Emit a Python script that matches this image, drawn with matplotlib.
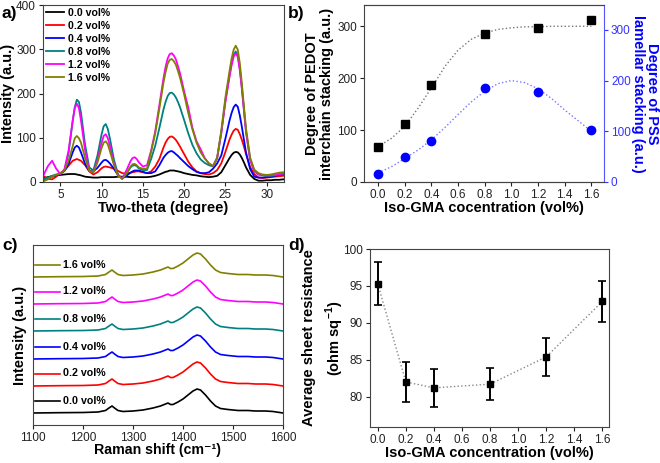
import numpy as np
import matplotlib
matplotlib.use("Agg")
import matplotlib.pyplot as plt

plt.rcParams['font.family'] = ['Liberation Sans', 'DejaVu Sans']
plt.rcParams['mathtext.fontset'] = 'custom'
plt.rcParams['mathtext.rm'] = 'Liberation Sans'
plt.rcParams['mathtext.bf'] = 'Liberation Sans:bold'

# ---- panel a: XRD ----
two_theta = list(np.arange(3.0, 32.01, 0.5))
xrd_labels = ["0.0 vol%", "0.2 vol%", "0.4 vol%", "0.8 vol%", "1.2 vol%", "1.6 vol%"]
xrd_colors = ["#000000", "#ff0000", "#0000ff", "#008080", "#ff00ff", "#808000"]
xrd_00 = [9, 11, 13, 15, 16, 17, 18, 18, 17, 15, 12, 11, 10, 10, 11, 11, 11, 11, 12, 12,
          12, 11, 11, 11, 11, 11, 12, 14, 17, 21, 24, 26, 25, 23, 20, 18, 16, 15, 13, 12,
          11, 12, 14, 22, 38, 54, 66, 67, 54, 33, 16, 7, 3, 3, 4, 4, 5, 5, 6]
xrd_02 = [13, 7, 6, 12, 20, 26, 37, 48, 52, 48, 38, 24, 17, 22, 31, 35, 33, 30, 25, 20,
          19, 21, 23, 24, 22, 20, 24, 35, 52, 78, 97, 103, 95, 80, 63, 46, 33, 24, 20, 18,
          17, 20, 27, 42, 68, 96, 116, 118, 95, 63, 34, 18, 10, 9, 10, 11, 12, 13, 14]
xrd_04 = [5, 8, 12, 15, 19, 25, 41, 67, 82, 67, 41, 25, 24, 32, 44, 50, 42, 30, 15, 8,
          14, 21, 26, 26, 23, 20, 20, 24, 38, 55, 66, 70, 63, 54, 45, 36, 29, 23, 20, 20,
          22, 30, 42, 60, 98, 139, 169, 170, 124, 66, 29, 12, 10, 10, 11, 12, 14, 16, 18]
xrd_08 = [6, 10, 14, 17, 18, 26, 66, 138, 186, 157, 84, 33, 26, 60, 108, 131, 99, 50, 17, 7,
          18, 33, 38, 31, 27, 27, 52, 82, 122, 164, 194, 202, 191, 169, 140, 110, 84, 65, 51, 43,
          38, 35, 54, 112, 184, 241, 287, 287, 212, 114, 50, 25, 17, 15, 14, 14, 15, 17, 19]
xrd_12 = [17, 36, 48, 30, 18, 29, 71, 139, 177, 139, 71, 26, 22, 49, 89, 108, 82, 41, 14, 8,
          26, 47, 56, 45, 35, 38, 71, 115, 174, 235, 279, 291, 277, 246, 205, 168, 123, 92, 74, 54,
          42, 36, 54, 110, 181, 238, 283, 283, 209, 113, 50, 25, 17, 16, 15, 15, 16, 18, 19]
xrd_16 = [2, 6, 12, 16, 20, 26, 48, 81, 104, 89, 54, 25, 22, 44, 77, 92, 70, 38, 14, 7,
          19, 35, 41, 33, 30, 30, 68, 110, 166, 225, 267, 278, 265, 236, 198, 156, 119, 89, 67, 53,
          42, 36, 55, 116, 191, 251, 299, 299, 222, 121, 55, 28, 20, 17, 16, 17, 19, 21, 22]
# extra readings near the peak tops
two_theta_peaks = [6.75, 7.25, 10.25, 10.75, 13.75, 14.25, 17.75, 18.25, 18.75, 19.25,
                   25.75, 26.25, 26.75, 27.25]
peaks_00 = [18, 16, 11, 11, 11, 11, 23, 26, 26, 24, 61, 68, 62, 44]
peaks_02 = [50, 50, 34, 34, 22, 24, 89, 102, 100, 88, 107, 120, 108, 80]
peaks_04 = [78, 78, 49, 47, 24, 26, 61, 69, 67, 59, 156, 175, 150, 95]
peaks_08 = [169, 181, 126, 120, 37, 36, 181, 201, 198, 181, 268, 295, 256, 163]
peaks_12 = [167, 167, 104, 99, 54, 52, 260, 289, 286, 262, 264, 291, 252, 160]
peaks_16 = [99, 99, 89, 85, 40, 38, 248, 276, 273, 251, 279, 308, 268, 170]

# ---- panel b: stacking degree ----
conc = [0.0, 0.2, 0.4, 0.8, 1.2, 1.6]
pedot_stack = [68, 112, 186, 286, 296, 313]
pss_stack = [16, 50, 80, 186, 177, 103]
fit_x = np.arange(0.0, 1.601, 0.1)
pedot_fit = [68, 84, 107, 142, 181, 222, 254, 275, 287, 294, 297, 299, 299, 300, 300, 300, 300]
pss_fit = [18, 30, 46, 63, 83, 107, 133, 158, 179, 194, 200, 196, 184, 165, 142, 121, 100]

# ---- panel c: Raman ----
raman_shift = [1100, 1150, 1200, 1230, 1245, 1252, 1258, 1263, 1270, 1280, 1300, 1320, 1340,
               1355, 1365, 1370, 1375, 1380, 1390, 1400, 1410, 1420, 1428, 1435, 1445, 1455,
               1465, 1475, 1490, 1510, 1530, 1545, 1565, 1580, 1600]
raman_profile = [0, 0.3, 0.5, 1, 2.5, 5, 7, 5, 2.5, 1.5, 2, 3, 5, 7, 9, 10, 8.5, 8.5, 11, 14,
                 18, 22, 24, 23, 18, 12, 7, 4.5, 3.5, 2.5, 2.5, 2, 2, 1.5, 0]
raman_offsets = [12, 39, 66, 94, 121, 148]

# ---- panel d: sheet resistance ----
rs_mean = [95.3, 82.0, 81.2, 81.7, 85.4, 92.9]
rs_err = [2.9, 2.7, 2.55, 2.2, 2.55, 2.75]

fig = plt.figure(figsize=(6.6, 4.63), dpi=100)
frame = '#444444'
lab_fs = 10.5
tick_fs = 8.5


def style(ax):
    for s in ax.spines.values():
        s.set_color(frame)
        s.set_linewidth(0.8)
    ax.tick_params(direction='out', length=3, width=0.8, pad=2, labelsize=tick_fs, colors='#222222')


# a
ax = fig.add_axes([43/660, 1-182/463, 241/660, 177/463])
series = [(xrd_00, peaks_00), (xrd_02, peaks_02), (xrd_04, peaks_04),
          (xrd_08, peaks_08), (xrd_12, peaks_12), (xrd_16, peaks_16)]
xx = np.array(two_theta + two_theta_peaks)
order = np.argsort(xx)
for (y, yp), c, l in zip(series, xrd_colors, xrd_labels):
    yy = np.array(y + yp)
    ax.plot(xx[order], yy[order], color=c, lw=1.3, label=l)
ax.set_xlim(2.9, 32.1)
ax.set_ylim(0, 400)
ax.set_xticks([5, 10, 15, 20, 25, 30])
ax.set_yticks([0, 100, 200, 300, 400])
ax.set_xlabel("Two-theta (degree)", fontsize=lab_fs, fontweight='bold', labelpad=0)
ax.set_ylabel("Intensity (a.u.)", fontsize=lab_fs, fontweight='bold', labelpad=1)
style(ax)
ax.legend(loc='upper left', frameon=False, prop={'weight': 'bold', 'size': 7.6},
          handlelength=1.7, handletextpad=0.4, labelspacing=0.28,
          borderaxespad=0.0, borderpad=0.3)

# b
ax = fig.add_axes([364/660, 1-182/463, 240/660, 177/463])
ax.plot(fit_x, pedot_fit, ls=':', color='#777777', lw=1)
ax.plot(conc, pedot_stack, 's', color='k', ms=5.5)
ax.set_xlim(-0.105, 1.695)
ax.set_ylim(0, 341)
ax.set_xticks(np.arange(0, 1.61, 0.2))
ax.set_yticks([0, 100, 200, 300])
ax.set_xlabel("Iso-GMA cocentration (vol%)", fontsize=lab_fs, fontweight='bold', labelpad=0)
ax.set_ylabel("Degree of PEDOT\ninterchain stacking (a.u.)", fontsize=lab_fs,
              fontweight='bold', labelpad=2, linespacing=1.1)
style(ax)
ax.spines['right'].set_visible(False)
ax2 = ax.twinx()
ax2.plot(fit_x, pss_fit, ls=':', color='#7777ff', lw=1)
ax2.plot(conc, pss_stack, 'o', color='#0000ff', ms=6)
ax2.set_ylim(0, 349)
ax2.set_yticks([0, 100, 200, 300])
style(ax2)
ax2.spines['right'].set_color('#5555ff')
ax2.spines['left'].set_visible(False)
ax2.tick_params(axis='y', colors='#3333ff', labelcolor='#3333ff')
ax2.set_ylabel("Degree of PSS\nlamellar stacking (a.u.)", fontsize=lab_fs, fontweight='bold',
               color='#0000ff', rotation=270, va='center', ha='center', linespacing=1.0)
ax2.yaxis.set_label_coords(1.172, 0.5)

# c
ax = fig.add_axes([33/660, 1-425/463, 250/660, 180/463])
for off, c, l in zip(raman_offsets, xrd_colors, xrd_labels):
    ax.plot(raman_shift, np.array(raman_profile) + off, color=c, lw=1.2)
    ax.plot([1104, 1154], [off + 12.5, off + 12.5], color=c, lw=1.2)
    ax.text(1160, off + 12.5, l, fontsize=7.7, fontweight='bold', va='center', ha='left')
ax.set_xlim(1100, 1600)
ax.set_ylim(0, 180)
ax.set_yticks([])
ax.set_xticks([1100, 1200, 1300, 1400, 1500, 1600])
ax.set_xlabel("Raman shift (cm\u207b\u00b9)", fontsize=10.2, fontweight='bold', labelpad=-1)
ax.set_ylabel("Intensity (a.u.)", fontsize=lab_fs, fontweight='bold', labelpad=4)
style(ax)

# d
ax = fig.add_axes([370/660, 36/463, 239/660, 178/463])
ax.plot(conc, rs_mean, ls=':', color='#888888', lw=1)
ax.errorbar(conc, rs_mean, yerr=rs_err, fmt='s', color='k', ms=5, capsize=3,
            elinewidth=1.4, capthick=1.2)
ax.set_xlim(-0.055, 1.647)
ax.set_ylim(75.9, 100)
ax.set_xticks(np.arange(0, 1.61, 0.2))
ax.set_yticks([80, 85, 90, 95, 100])
ax.set_xlabel("Iso-GMA concentration (vol%)", fontsize=lab_fs, fontweight='bold', labelpad=0)
ax.set_ylabel("Average sheet resistance\n(ohm sq$^{\\mathbf{-1}}$)", fontsize=lab_fs,
              fontweight='bold', va='center', ha='center', linespacing=1.5)
ax.yaxis.set_label_coords(-0.192, 0.5)
style(ax)

for lbl, x, y in [("a)", 2, 6), ("b)", 288, 6), ("c)", 2, 238), ("d)", 288, 238)]:
    fig.text(x/660, 1 - y/463, lbl, fontsize=12.5, fontweight='bold', va='top', ha='left')

fig.savefig("out.png", dpi=100)
